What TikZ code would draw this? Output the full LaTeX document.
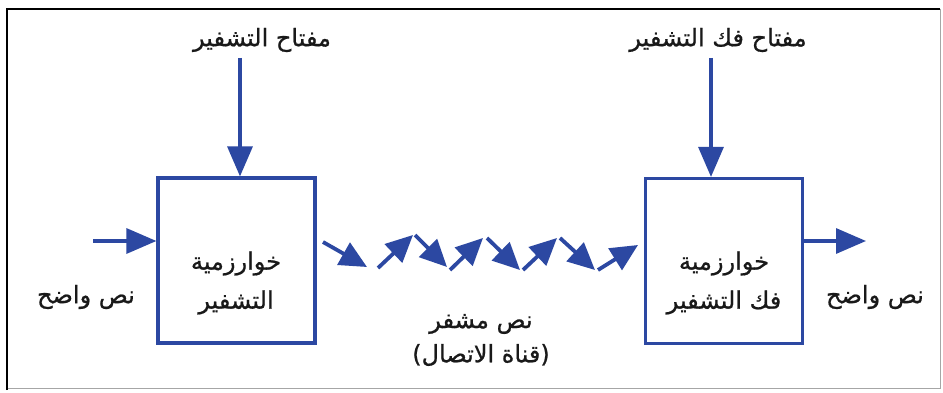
\documentclass[tikz,border=0pt]{standalone}
\usepackage{fontspec}
\usetikzlibrary{arrows.meta}
\TeXXeTstate=1
\newfontfamily\arabicfont[Script=Arabic, FakeBold=0.8]{DejaVu Sans}
\definecolor{dblue}{RGB}{44,72,162}
\tikzset{
  arr/.style={draw=dblue, line width=3.2pt, -{Triangle[length=30pt,width=25pt]}},
  zarr/.style={draw=dblue, line width=3.8pt, -{Triangle[length=27pt,width=25pt]}},
  algbox/.style={draw=dblue, line width=3.2pt, minimum width=157pt, minimum height=165pt, inner sep=0pt},
  lbl/.style={font=\arabicfont\fontsize{24}{39}\selectfont, text=black!90, inner sep=0pt, align=center},
}
\begin{document}
\begin{tikzpicture}[x=1pt,y=-1pt]
\useasboundingbox (0,0) rectangle (943,393);
\fill[white] (0,0) rectangle (943,393);
% frame
\draw[gray!70, line width=1pt] (940,9) -- (940,388) -- (7,388);
\draw[black, line width=2.5pt] (7,390) -- (7,9) -- (940,9);
% boxes
\node[algbox] (enc) at (236.5,260.5) {};
\node[algbox] (dec) at (724,261) {};
\node[lbl] (encT) at (236,283) {\beginR خوارزمية\endR\\ \beginR التشفير\endR};
\node[lbl] (decT) at (724,283) {\beginR خوارزمية\endR\\ \beginR فك التشفير\endR};
% keys
\node[lbl] (k1) at (262,40) {\beginR مفتاح التشفير\endR};
\node[lbl] (k2) at (718,40) {\beginR مفتاح فك التشفير\endR};
\coordinate (k1s) at (240,58);
\coordinate (k2s) at (711,58);
\draw[arr] (k1s) -- (k1s |- enc.north);
\draw[arr] (k2s) -- (k2s |- dec.north);
% input / output
\coordinate (inp) at (93,241);
\coordinate (outp) at (866,241);
\draw[arr] (inp) -- (inp -| enc.west);
\draw[arr] (outp -| dec.east) -- (outp);
\node[lbl] (pin) at (86,297) {\beginR نص واضح\endR};
\node[lbl] (pout) at (875,297) {\beginR نص واضح\endR};
% channel
\coordinate (a0) at (323,242); \coordinate (a1) at (367,267);
\coordinate (b0) at (378,268); \coordinate (b1) at (413,235);
\coordinate (c0) at (415,235); \coordinate (c1) at (447,267);
\coordinate (d0) at (450,270); \coordinate (d1) at (483,238);
\coordinate (e0) at (487,238); \coordinate (e1) at (520,270);
\coordinate (f0) at (523,270); \coordinate (f1) at (557,238);
\coordinate (g0) at (560,238); \coordinate (g1) at (595,270);
\coordinate (h0) at (598,270); \coordinate (h1) at (638,245);
\foreach \s in {a,b,c,d,e,f,g,h}{\draw[zarr] (\s0) -- (\s1);}
\node[lbl] (ct) at (481,324) {\beginR نص مشفر\endR};
\node[lbl] (cc) at (481,355) {\beginR(قناة الاتصال)\endR};
\end{tikzpicture}
\end{document}
